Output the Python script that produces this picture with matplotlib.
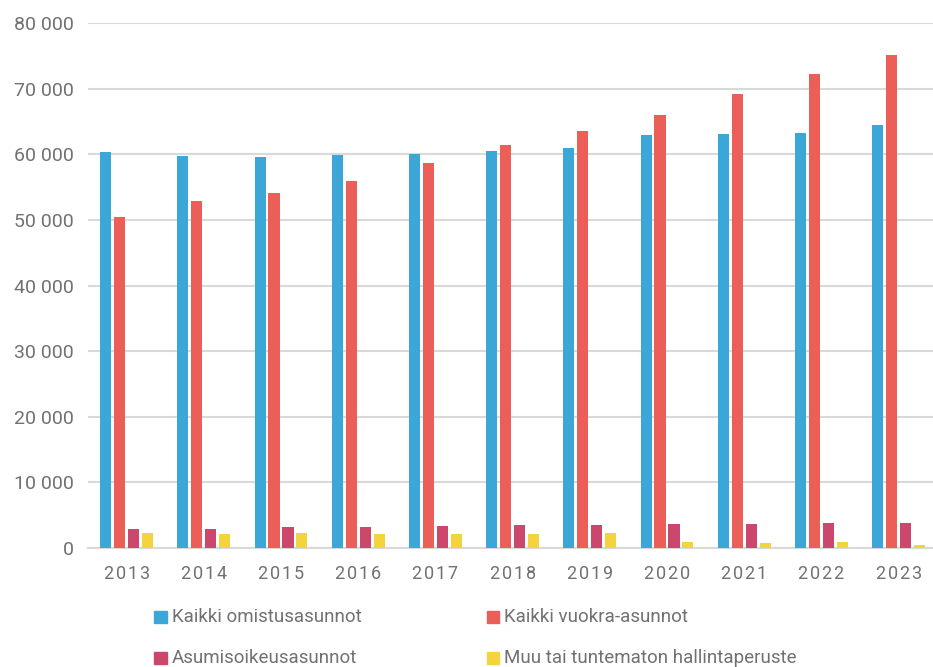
import numpy as np
import matplotlib.pyplot as plt
from matplotlib.ticker import FuncFormatter

# ─────────────────────────────────────────────
# Data
# ─────────────────────────────────────────────

years = ['2013', '2014', '2015', '2016', '2017', '2018',
         '2019', '2020', '2021', '2022', '2023']
omistus = [60300, 59800, 59650, 59850, 60100, 60500,
           60900, 62950, 63100, 63250, 64400]
vuokra = [50500, 52850, 54050, 55980, 58650, 61420,
          63550, 65950, 69200, 72300, 75150]
asumisoikeus = [2950, 2950, 3150, 3250, 3350, 3450,
                3500, 3600, 3700, 3800, 3760]
muu = [2330, 2130, 2230, 2130, 2130, 2130,
       2230, 910, 760, 860, 460]

series_names = ['Kaikki omistusasunnot', 'Kaikki vuokra-asunnot',
                'Asumisoikeusasunnot', 'Muu tai tuntematon hallintaperuste']
colors = ['#3aa7d7', '#eb5f58', '#cb486c', '#f3d43c']

GRID_C = '#d9d9d9'
TEXT_C = '#717171'

plt.rcParams['font.family'] = ['Roboto', 'DejaVu Sans']

# ─────────────────────────────────────────────
# Plot
# ─────────────────────────────────────────────

fig = plt.figure(figsize=(9.33, 6.67), dpi=100)
ax = fig.add_axes([88 / 933, 1 - 548 / 667, 845 / 933, 525 / 667])

x = np.arange(len(years))
pitch = 0.181
bar_w = 0.143
all_series = [omistus, vuokra, asumisoikeus, muu]
for i, (vals, name, c) in enumerate(zip(all_series, series_names, colors)):
    ax.bar(x + (i - 1.5) * pitch, vals, width=bar_w, color=c, label=name,
           zorder=3)

ax.set_xlim(-0.5, -0.5 + 845 / 77.2)
ax.set_ylim(0, 80000)
ax.set_yticks(np.arange(0, 80001, 10000))
ax.yaxis.set_major_formatter(FuncFormatter(lambda v, p: f"{int(v):,}".replace(',', ' ')))
ax.set_xticks(x)
ax.set_xticklabels(['\u200a'.join(y) for y in years])

ax.grid(axis='y', color=GRID_C, linewidth=1.5, zorder=0)
for s in ['top', 'right', 'left']:
    ax.spines[s].set_visible(False)
ax.spines['bottom'].set_color(GRID_C)
ax.spines['bottom'].set_linewidth(1.5)
ax.tick_params(axis='both', length=0, colors=TEXT_C)
ax.tick_params(axis='y', pad=10, labelsize=14)
ax.tick_params(axis='x', pad=12, labelsize=13)

# legend: two rows, placed by hand so the columns line up with the reference
legend_pos = [(154, 617), (487, 617), (154, 658), (487, 658)]
for (px, py), name, c in zip(legend_pos, series_names, colors):
    fig.patches.append(plt.Rectangle((px / 933, 1 - (py + 6) / 667), 12.5 / 933, 12.5 / 667,
                                     transform=fig.transFigure, color=c))
    fig.text((px + 17.5) / 933, 1 - py / 667, name, va='center', ha='left',
             color=TEXT_C, fontsize=13.5)

fig.savefig('out.png', dpi=100)
